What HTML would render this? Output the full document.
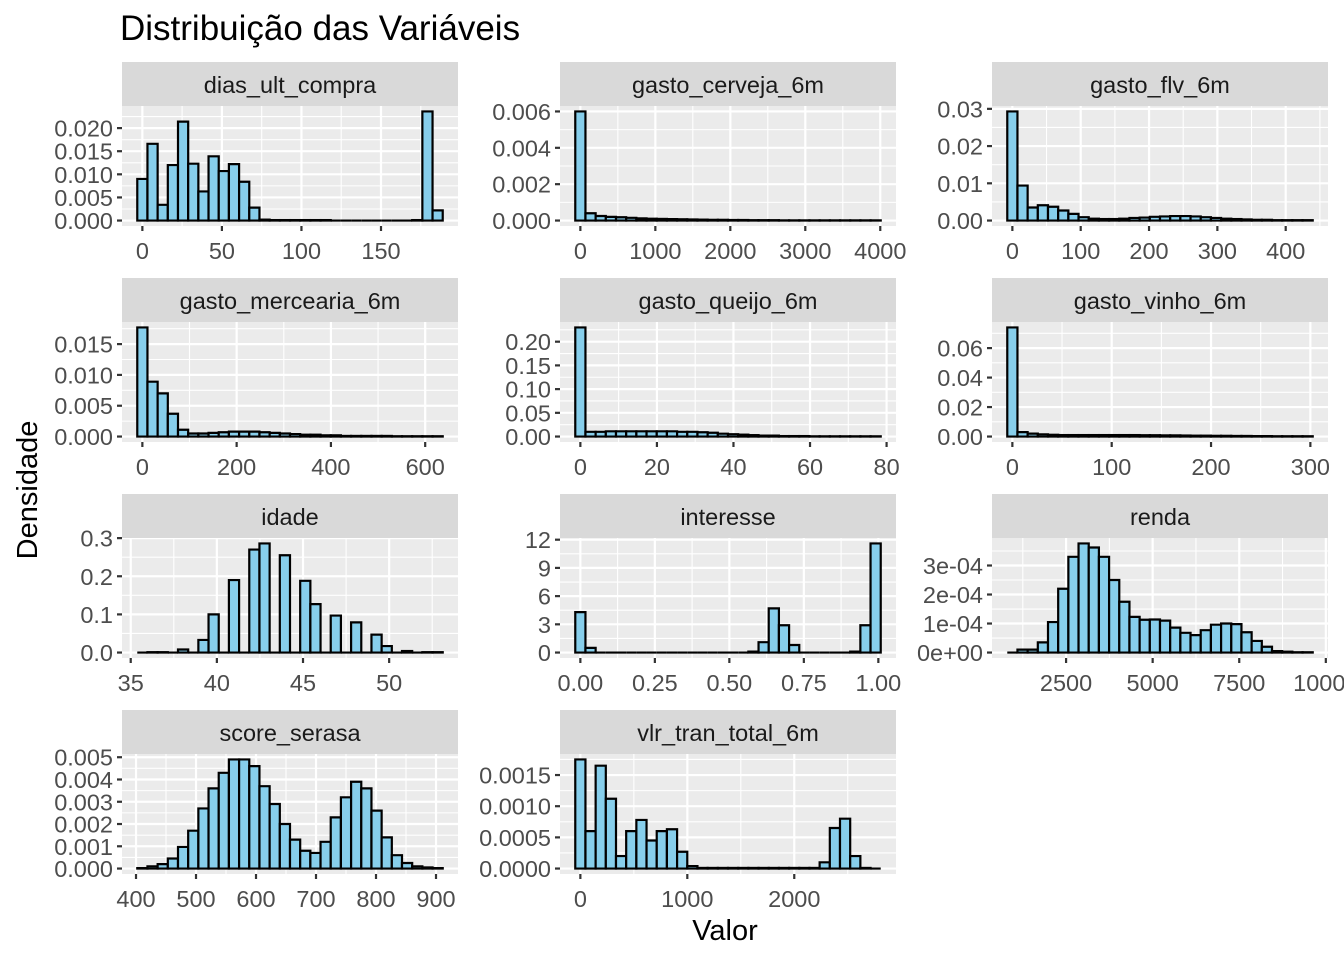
<!DOCTYPE html>
<html><head><meta charset="utf-8"><title>Distribuição das Variáveis</title>
<style>
html,body{margin:0;padding:0;background:#fff;}
svg{display:block;font-family:"Liberation Sans",Arial,sans-serif;}
</style></head>
<body>
<svg id="chart" width="1344" height="960" viewBox="0 0 1344 960" xmlns="http://www.w3.org/2000/svg">
<rect x="0" y="0" width="1344" height="960" fill="#fff"/>
<text x="120" y="40" font-size="35" fill="#000">Distribuição das Variáveis</text>
<text x="0" y="0" transform="translate(37,490) rotate(-90)" text-anchor="middle" font-size="29" fill="#000">Densidade</text>
<text x="725" y="940" text-anchor="middle" font-size="29" fill="#000">Valor</text>
</svg>
<script>
const panelNames = ["dias_ult_compra","gasto_cerveja_6m","gasto_flv_6m","gasto_mercearia_6m","gasto_queijo_6m","gasto_vinho_6m","idade","interesse","renda","score_serasa","vlr_tran_total_6m"];
const binStarts = [-3.2, -67.9, -7.45, -10.8, -1.33, -5.125, 35.38, -0.01709, 802, 402.1, -47.6];
const binWidths = [6.4, 135.8, 14.9, 21.6, 2.66, 10.25, 0.591, 0.03417, 294, 16.97, 95.2];

const valsDias = [0.0090,0.0166,0.0034,0.0120,0.0214,0.0123,0.0063,0.0139,0.0107,0.0122,0.0084,0.0028,0.0002,0.0001,0.0001,0.0001,0.0001,0.0001,0.0001,0,0,0,0,0,0,0,0,0.0001,0.0236,0.0022];
const valsCerveja = [0.0060,0.0004,0.00025,0.0002,0.00018,0.00015,0.00012,0.0001,0.00009,0.00008,0.00007,0.00006,0.00005,0.00004,0.00004,0.00003,0.00003,0.00002,0.00002,0.00002,0.00001,0.00001,0.00001,0.00001,0.00001,0.00001,0.00001,0.00001,0.00001,0.00001];
const valsFlv = [0.0293,0.0094,0.0035,0.0041,0.0037,0.0027,0.0018,0.0009,0.0005,0.0004,0.0004,0.0005,0.0007,0.0008,0.0010,0.0011,0.0012,0.0012,0.0011,0.0009,0.0007,0.0005,0.0004,0.0003,0.0002,0.0002,0.0001,0.0001,0.0001,0.0001];
const valsMercearia = [0.0177,0.0089,0.0070,0.0037,0.0011,0.0005,0.0005,0.0006,0.0007,0.0008,0.0008,0.0008,0.0007,0.0006,0.0005,0.0004,0.0003,0.0003,0.0002,0.0002,0.0001,0.0001,0.0001,0.0001,0.0001,0.00005,0.00005,0.00005,0.00005,0.00005];
const valsQueijo = [0.230,0.010,0.010,0.011,0.011,0.011,0.011,0.011,0.011,0.011,0.010,0.010,0.009,0.008,0.006,0.005,0.004,0.003,0.002,0.002,0.001,0.001,0.001,0.0005,0.0005,0.0005,0.0005,0.0005,0.0005,0.0005];
const valsVinho = [0.074,0.003,0.002,0.0015,0.0012,0.0010,0.0010,0.0010,0.0010,0.0010,0.0010,0.0010,0.0010,0.0009,0.0009,0.0008,0.0008,0.0007,0.0006,0.0006,0.0005,0.0005,0.0004,0.0004,0.0003,0.0003,0.0002,0.0002,0.0002,0.0002];
const valsIdade = [0,0.001,0.001,0,0.008,0,0.033,0.10,0,0.19,0,0.27,0.286,0,0.255,0,0.188,0.127,0,0.097,0,0.079,0,0.047,0.017,0,0.004,0,0.001,0.001];
const valsInteresse = [4.3,0.5,0,0,0,0,0,0,0,0,0,0,0,0,0,0,0,0.1,1.1,4.7,2.9,0.8,0,0,0,0,0,0.1,2.9,11.6];
const valsRenda = [0,0.00001,0.00001,0.000035,0.000105,0.00022,0.00033,0.000376,0.000362,0.00033,0.00025,0.000175,0.000123,0.000113,0.000114,0.00011,0.000086,0.000068,0.00006,0.000077,0.000096,0.0001,0.000098,0.00007,0.00004,0.00002,0.000005,0.000003,0.000001,0.000001];
const valsScore = [0.00002,0.0001,0.0002,0.00045,0.00097,0.0017,0.0027,0.0036,0.0043,0.0049,0.0049,0.0046,0.0037,0.0029,0.0020,0.0013,0.0008,0.0007,0.0012,0.0023,0.0032,0.0039,0.0036,0.0026,0.0014,0.0006,0.00025,0.0001,0.00005,0.00002];
const valsVlr = [0.00175,0.0006,0.00165,0.00112,0.0002,0.0006,0.00078,0.00045,0.0006,0.00063,0.00027,0.00004,0.00001,0.00001,0.00001,0.00001,0.00001,0.00001,0.00001,0.00001,0.00001,0.00001,0.00001,0.00001,0.0001,0.00065,0.0008,0.0002,0.00001,0];

const xTickVals = [[0,50,100,150],[0,1000,2000,3000,4000],[0,100,200,300,400],[0,200,400,600],[0,20,40,60,80],[0,100,200,300],[35,40,45,50],[0,0.25,0.5,0.75,1],[2500,5000,7500,10000],[400,500,600,700,800,900],[0,1000,2000]];
const xTickLabels = [["0","50","100","150"],["0","1000","2000","3000","4000"],["0","100","200","300","400"],["0","200","400","600"],["0","20","40","60","80"],["0","100","200","300"],["35","40","45","50"],["0.00","0.25","0.50","0.75","1.00"],["2500","5000","7500","10000"],["400","500","600","700","800","900"],["0","1000","2000"]];
const yTickVals = [[0,0.005,0.01,0.015,0.02],[0,0.002,0.004,0.006],[0,0.01,0.02,0.03],[0,0.005,0.01,0.015],[0,0.05,0.1,0.15,0.2],[0,0.02,0.04,0.06],[0,0.1,0.2,0.3],[0,3,6,9,12],[0,0.0001,0.0002,0.0003],[0,0.001,0.002,0.003,0.004,0.005],[0,0.0005,0.001,0.0015]];
const yTickLabels = [["0.000","0.005","0.010","0.015","0.020"],["0.000","0.002","0.004","0.006"],["0.00","0.01","0.02","0.03"],["0.000","0.005","0.010","0.015"],["0.00","0.05","0.10","0.15","0.20"],["0.00","0.02","0.04","0.06"],["0.0","0.1","0.2","0.3"],["0","3","6","9","12"],["0e+00","1e-04","2e-04","3e-04"],["0.000","0.001","0.002","0.003","0.004","0.005"],["0.0000","0.0005","0.0010","0.0015"]];

const allVals = [valsDias,valsCerveja,valsFlv,valsMercearia,valsQueijo,valsVinho,valsIdade,valsInteresse,valsRenda,valsScore,valsVlr];

const NS = "http://www.w3.org/2000/svg";
const svg = document.getElementById("chart");
const colLeft = [122,560,992], panelW = 336, panelH = 120;
function mk(tag, attrs, parent){const e=document.createElementNS(NS,tag);for(const k in attrs)e.setAttribute(k,attrs[k]);(parent||svg).appendChild(e);return e;}
const defs = mk("defs",{});

panelNames.forEach((name,i)=>{
  const row=Math.floor(i/3), col=i%3;
  const L=colLeft[col], T=106+216*row, R=L+panelW, B=T+panelH;
  const vals=allVals[i], w=binWidths[i], s0=binStarts[i], n=vals.length;
  const span=n*w, xmin=s0-0.05*span, xmax=s0+span+0.05*span;
  const vmax=Math.max(...vals), ymin=-0.05*vmax, ymax=1.05*vmax;
  const xs=v=>L+(v-xmin)/(xmax-xmin)*panelW;
  const ys=v=>B-(v-ymin)/(ymax-ymin)*panelH;
  const g=mk("g",{});
  
  
  const cp=mk("clipPath",{id:"clip"+i},defs); mk("rect",{x:L,y:T,width:panelW,height:panelH},cp);
  const bg=mk("rect",{x:L,y:T,width:panelW,height:panelH,fill:"#EBEBEB"},g);
  
  
  const st=mk("rect",{x:L,y:T-44,width:panelW,height:44,fill:"#D9D9D9"},g);
  
  
  const stt=mk("text",{x:L+panelW/2,y:T-13,"text-anchor":"middle","font-size":"23.5",fill:"#1A1A1A"},g);
  stt.textContent=name;
  
  
  const grid=mk("g",{"clip-path":"url(#clip"+i+")"},g);
  
  
  const xt=xTickVals[i], yt=yTickVals[i];
  const dx=xt[1]-xt[0], dy=yt[1]-yt[0];
  for(let k=-2;k<xt.length+2;k++){const v=xt[0]+(k-0.5)*dx; if(v>xmin&&v<xmax) mk("line",{x1:xs(v),x2:xs(v),y1:T,y2:B,stroke:"#fff","stroke-width":1.1},grid);}
  for(let k=-2;k<yt.length+2;k++){const v=yt[0]+(k-0.5)*dy; if(v>ymin&&v<ymax) mk("line",{x1:L,x2:R,y1:ys(v),y2:ys(v),stroke:"#fff","stroke-width":1.1},grid);}
  xt.forEach(v=>{if(v>=xmin&&v<=xmax) mk("line",{x1:xs(v),x2:xs(v),y1:T,y2:B,stroke:"#fff","stroke-width":2.2},grid);});
  yt.forEach(v=>{mk("line",{x1:L,x2:R,y1:ys(v),y2:ys(v),stroke:"#fff","stroke-width":2.2},grid);});
  const bars=mk("g",{"clip-path":"url(#clip"+i+")"},g);
  
  
  vals.forEach((v,k)=>{
    const x0=xs(s0+k*w), x1=xs(s0+(k+1)*w), y0=ys(0), y1=Math.min(ys(v),y0);
    const d="M"+x0+","+y0+"L"+x0+","+y1+"L"+x1+","+y1+"L"+x1+","+y0+"Z";
    const r=mk("path",{d:d,fill:"#87CEEB",stroke:"#000","stroke-width":2.2,"stroke-linejoin":"miter"},bars);
    
    
  });
  xt.forEach((v,k)=>{
    const x=xs(v);
    mk("line",{x1:x,x2:x,y1:B,y2:B+5,stroke:"#333","stroke-width":2.2},g);
    const t=mk("text",{x:x,y:B+33,"text-anchor":"middle","font-size":"23.5",fill:"#4D4D4D"},g);
    t.textContent=xTickLabels[i][k];
    
    
  });
  yt.forEach((v,k)=>{
    const y=ys(v);
    mk("line",{x1:L-5,x2:L,y1:y,y2:y,stroke:"#333","stroke-width":2.2},g);
    const t=mk("text",{x:L-9,y:y+8.5,"text-anchor":"end","font-size":"23.5",fill:"#4D4D4D"},g);
    t.textContent=yTickLabels[i][k];
    
    
  });
});
</script>
</body></html>
